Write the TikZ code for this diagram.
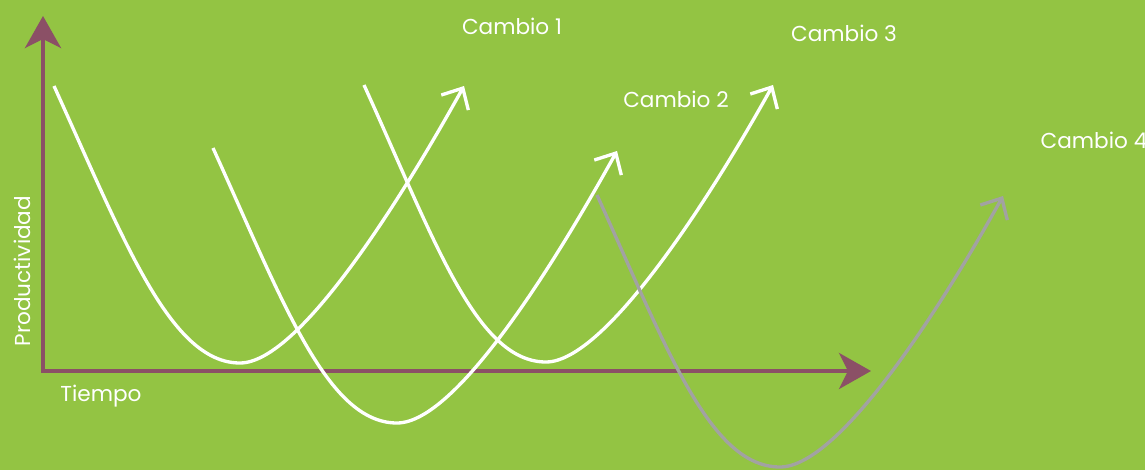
\documentclass[tikz,border=0pt]{standalone}
\usepackage{fontspec}
\setmainfont{Poppins}
\usetikzlibrary{arrows.meta}
\definecolor{fondo}{HTML}{93C443}
\definecolor{eje}{HTML}{8B5066}
\definecolor{gris}{HTML}{A2A2A2}

\begin{document}
\begin{tikzpicture}[x=0.02cm,y=-0.02cm,font=\fontsize{12.3}{14}\selectfont,
  every node/.style={inner sep=0pt,text=white},
  ejes/.style={draw=eje,line width=2.3pt,-{Stealth[length=6.4mm,width=7.2mm,inset=1.8mm]}},
  curva/.style={draw=white,line width=1.9pt,-{Straight Barb[length=3.3mm,width=6.2mm,line width=1.9pt]}},
  curvagris/.style={curva,draw=gris}]
  \fill[fondo] (0,0) rectangle (1145,470);
  \useasboundingbox (0,0) rectangle (1145,470);
  % ejes
  \coordinate (o) at (43,371);
  \coordinate (ytop) at (43,16);
  \coordinate (xend) at (871,371);
  \draw[ejes] (o) -- (ytop);
  \draw[ejes] ([xshift=-1.15pt]o) -- (xend);
  \node[rotate=90] (prod) at (22,271) {Productividad};
  \node (tiempo) at (101,396) {Tiempo};
  % curvas
  \coordinate (a1) at (54,86);   \coordinate (b1) at (240,363); \coordinate (e1) at (464,86);
  \coordinate (a2) at (213,148); \coordinate (b2) at (397,423); \coordinate (e2) at (617,151);
  \coordinate (a3) at (364,85);  \coordinate (b3) at (546,362); \coordinate (e3) at (773,85);
  \coordinate (a4) at (597,195); \coordinate (b4) at (780,467); \coordinate (e4) at (1003,196);
  \draw[curva] (a1) .. controls +(70,154) and +(-70,0) .. (b1) .. controls +(60,0) and +(-60,108) .. (e1);
  \draw[curva] (a2) .. controls +(70,154) and +(-70,0) .. (b2) .. controls +(60,0) and +(-60,108) .. (e2);
  \draw[curva] (a3) .. controls +(70,154) and +(-70,0) .. (b3) .. controls +(60,0) and +(-60,108) .. (e3);
  \draw[curvagris] (a4) .. controls +(70,154) and +(-70,0) .. (b4) .. controls +(60,0) and +(-60,108) .. (e4);
  % etiquetas
  \node (c1) at (512,26) {Cambio 1};
  \node (c2) at (676,99) {Cambio 2};
  \node (c3) at (844,33) {Cambio 3};
  \node (c4) at (1094,140) {Cambio 4};
\end{tikzpicture}
\end{document}
